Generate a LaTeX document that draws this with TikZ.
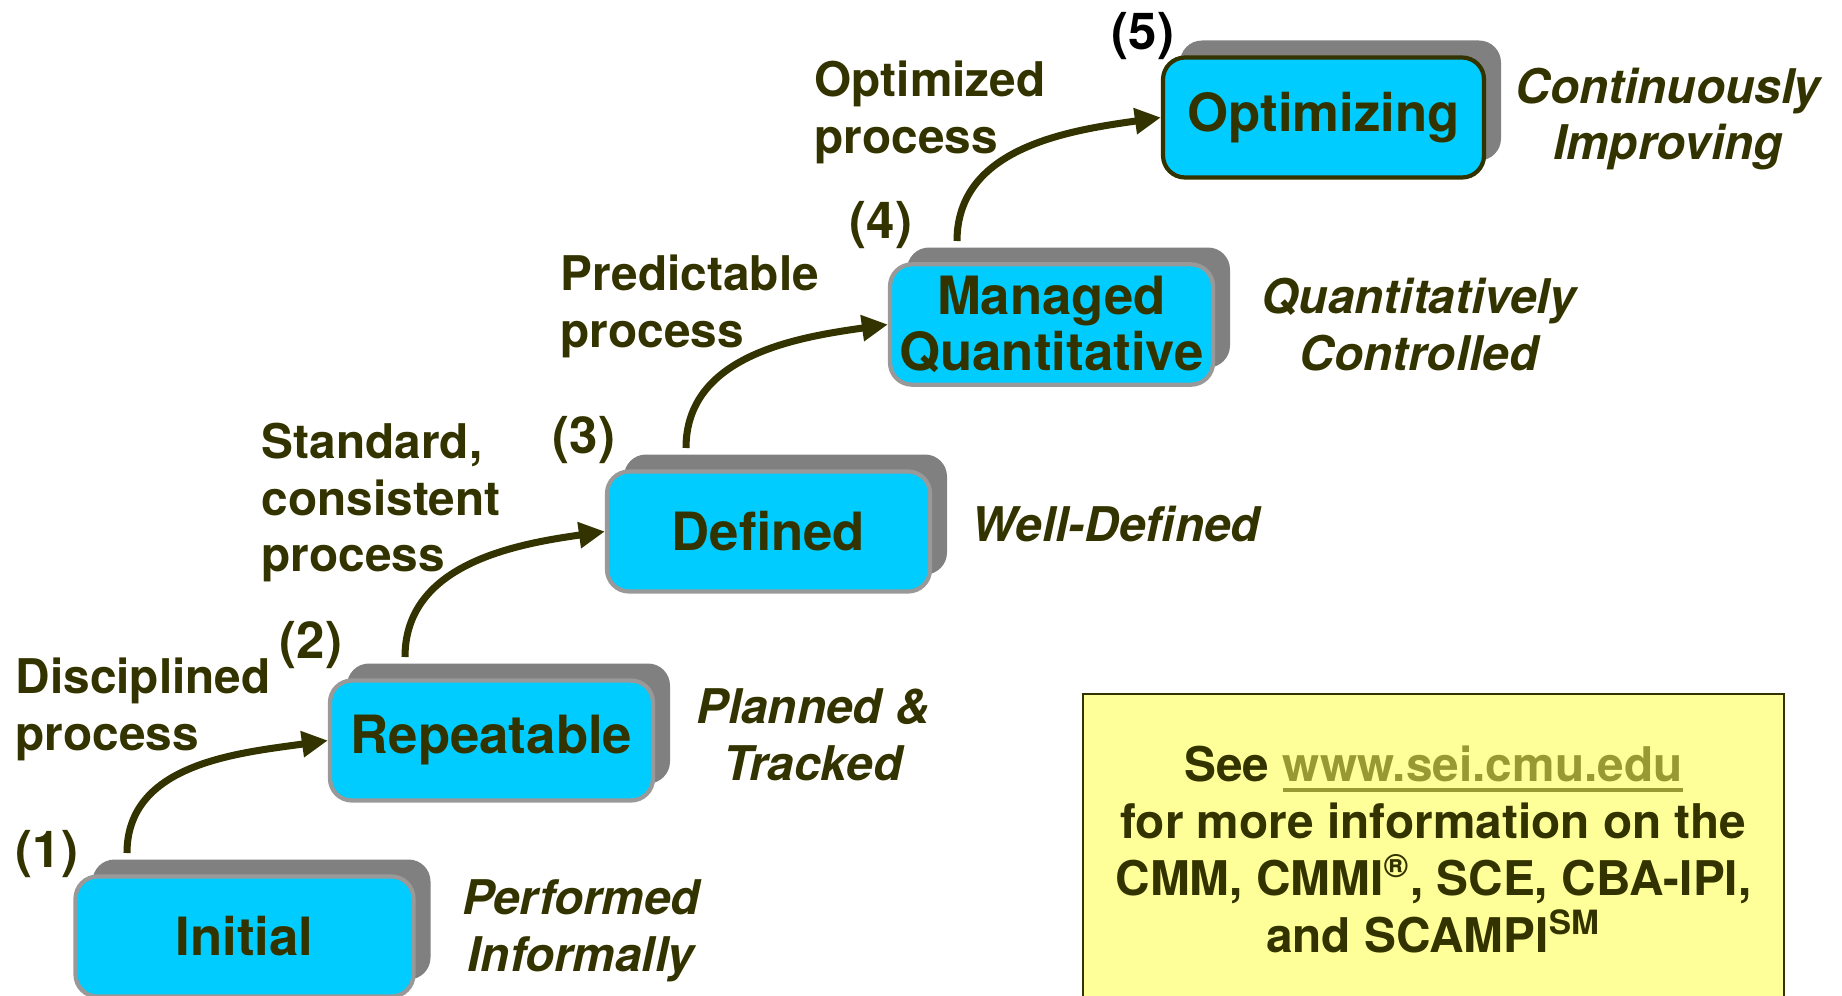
\documentclass[tikz,border=0pt]{standalone}
\usepackage{fontspec}
\setmainfont{TeX Gyre Heros}
\usetikzlibrary{arrows.meta}
\definecolor{ink}{HTML}{333300}
\definecolor{boxblue}{HTML}{00CCFF}
\definecolor{shadowgray}{HTML}{808080}
\definecolor{boxedge}{HTML}{999999}
\definecolor{notefill}{HTML}{FFFF99}
\definecolor{linkcol}{HTML}{999933}
\newcommand\linkline[1]{\setbox0\hbox{#1}\rlap{\rule[-3pt]{\wd0}{1.1pt}}\box0}
\begin{document}
\begin{tikzpicture}[text=ink,
  stepbox/.style={rectangle, rounded corners=0.22cm, fill=boxblue, draw=boxedge, line width=1.2pt,
    minimum width=3.23cm, minimum height=1.2cm, inner xsep=1pt, align=center,
    font=\fontsize{15}{16}\selectfont\bfseries},
  stepshadow/.style={rectangle, rounded corners=0.22cm, fill=shadowgray,
    minimum width=3.23cm, minimum height=1.2cm},
  side/.style={anchor=west, align=left, inner sep=0pt, font=\fontsize{13.6}{16.2}\selectfont\bfseries},
  trait/.style={align=center, inner sep=0pt, font=\fontsize{13.6}{16.2}\selectfont\bfseries\itshape},
  num/.style={inner sep=0pt, font=\fontsize{14.5}{16}\selectfont\bfseries},
  jump/.style={draw=ink, line width=2pt, -{Triangle[length=0.26cm,width=0.25cm]}}]
\useasboundingbox (0,0) rectangle (18.42,9.95);
\clip (0,0) rectangle (18.42,9.95);
% stage box with its shadow: name, centre, width, text, edge colour
\newcommand\stage[5]{
\node[stepshadow, minimum width=#3] (#1s) at ([xshift=0.17cm,yshift=0.17cm]#2) {};
\node[stepbox, minimum width=#3, draw=#5] (#1) at (#2) {#4};
}
\stage{ini}{2.445,0.585}{3.38cm}{Initial}{boxedge}
\stage{rep}{4.915,2.545}{3.23cm}{Repeatable}{boxedge}
\stage{def}{7.685,4.635}{3.23cm}{Defined}{boxedge}
\stage{man}{10.515,6.705}{3.23cm}{Managed\\Quantitative}{boxedge}
\stage{opt}{13.235,8.775}{3.21cm}{Optimizing}{ink}
% level numbers
\node[num] (n1) at (0.47,1.41) {(1)};
\node[num] (n2) at (3.11,3.50) {(2)};
\node[num] (n3) at (5.84,5.55) {(3)};
\node[num] (n4) at (8.81,7.70) {(4)};
\node[num, text=black] (n5) at (11.43,9.59) {(5)};
% process labels
\node[side] (p2) at (0.15,2.855) {Disciplined\\process};
\node[side] (p3) at (2.61,4.925) {Standard,\\consistent\\process};
\node[side] (p4) at (5.60,6.89) {Predictable\\process};
\node[side] (p5) at (8.14,8.83) {Optimized\\process};
% traits
\node[trait] (t1) at (5.81,0.64) {Performed\\Informally};
\node[trait] (t2) at (8.13,2.60) {Planned \&\\Tracked};
\node[trait] (t3) at (11.16,4.71) {Well-Defined};
\node[trait] (t4) at (14.19,6.70) {Quantitatively\\Controlled};
\node[trait] (t5) at (16.68,8.76) {Continuously\\Improving};
% arrows
\coordinate (j1) at (1.27,1.42);
\coordinate (j2) at (4.05,3.38);
\coordinate (j3) at (6.86,5.47);
\coordinate (j4) at (9.57,7.54);
\draw[jump] (j1) to[out=90,in=188] (rep.west);
\draw[jump] (j2) to[out=90,in=188] (def.west);
\draw[jump] (j3) to[out=90,in=188] (man.west);
\draw[jump] (j4) to[out=90,in=188] (opt.west);
% note
\node[draw=ink, line width=0.8pt, fill=notefill, minimum width=7.01cm, minimum height=3.11cm,
  align=center, font=\fontsize{13.6}{16.2}\selectfont\bfseries] (note) at (14.335,1.455)
  {See {\color{linkcol}\linkline{www.sei.cmu.edu}}\\for more information on the\\
   CMM, CMMI\textsuperscript{®}, SCE, CBA-IPI,\\and SCAMPI\textsuperscript{SM}};
\end{tikzpicture}
\end{document}
